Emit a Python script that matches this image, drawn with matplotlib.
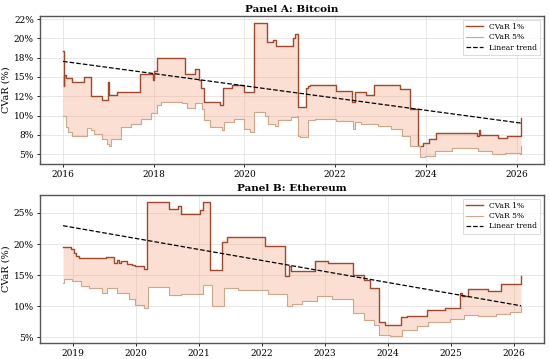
import matplotlib
matplotlib.use("Agg")
import matplotlib.pyplot as plt
import numpy as np
from matplotlib.ticker import MultipleLocator, FuncFormatter

# ---- Bitcoin: CVaR 1% (step series, decimal years) ----
btc_t1 = [2016.00, 2016.015, 2016.03, 2016.06, 2016.20, 2016.46, 2016.62, 2016.86,
          2017.00, 2017.02, 2017.06, 2017.20, 2017.70, 2017.98, 2018.00, 2018.07,
          2018.70, 2018.90, 2019.00, 2019.05, 2019.10, 2019.47, 2019.52, 2019.72,
          2020.00, 2020.20, 2020.49, 2020.63, 2020.69, 2021.06, 2021.12, 2021.18,
          2021.35, 2021.40, 2021.45, 2022.03, 2022.38, 2022.43, 2022.67, 2022.85,
          2023.43, 2023.65, 2023.83, 2023.94, 2024.06, 2024.22, 2025.12, 2025.17,
          2025.19, 2025.59, 2025.79, 2026.10]
btc_v1 = [18.4, 13.8, 15.2, 14.9, 14.4, 15.0, 12.5, 12.0,
          14.3, 12.7, 12.7, 13.1, 15.4, 14.6, 15.8, 17.5,
          15.4, 16.0, 14.6, 13.6, 11.8, 11.4, 13.6, 14.0,
          13.0, 22.0, 19.5, 19.8, 19.0, 20.1, 20.6, 11.1,
          13.55, 13.8, 13.9, 13.2, 11.8, 13.1, 12.7, 14.0,
          13.4, 10.8, 6.1, 6.5, 7.0, 7.76, 7.3, 8.1,
          7.5, 7.06, 7.4, 9.7]

# ---- Bitcoin: CVaR 5% ----
btc_t5 = [2016.00, 2016.06, 2016.10, 2016.20, 2016.53, 2016.61, 2016.68, 2016.86,
          2016.97, 2017.01, 2017.05, 2017.27, 2017.49, 2017.71, 2017.93, 2018.07,
          2018.15, 2018.62, 2018.73, 2018.92, 2019.06, 2019.10, 2019.25, 2019.50,
          2019.54, 2019.76, 2019.98, 2020.12, 2020.21, 2020.45, 2020.53, 2020.67,
          2020.74, 2021.03, 2021.15, 2021.18, 2021.22, 2021.40, 2021.55, 2022.03,
          2022.40, 2022.43, 2022.58, 2022.95, 2023.24, 2023.47, 2023.65, 2023.87,
          2023.98, 2024.20, 2024.57, 2025.16, 2025.45, 2025.75, 2026.08, 2026.10]
btc_v5 = [10.0, 8.5, 7.85, 7.4, 8.4, 8.1, 7.6, 7.0,
          6.3, 6.1, 7.0, 8.5, 8.95, 9.6, 10.3, 11.4,
          11.8, 11.6, 11.0, 11.6, 10.9, 9.4, 8.5, 8.1,
          9.2, 9.6, 8.3, 7.85, 10.5, 10.0, 8.9, 8.7,
          9.4, 9.8, 10.0, 7.4, 7.2, 9.4, 9.5, 9.25,
          8.3, 9.2, 8.95, 8.7, 8.3, 7.4, 6.1, 4.6,
          4.8, 5.4, 5.8, 5.4, 5.0, 5.2, 5.0, 6.1]

# ---- Ethereum: CVaR 1% ----
eth_t1 = [2018.84, 2018.96, 2019.02, 2019.05, 2019.09, 2019.52, 2019.65, 2019.69,
          2019.73, 2019.76, 2019.86, 2019.94, 2019.99, 2020.13, 2020.18, 2020.52,
          2020.66, 2020.71, 2021.01, 2021.06, 2021.18, 2021.37, 2021.45, 2022.04,
          2022.37, 2022.42, 2022.46, 2022.84, 2023.05, 2023.45, 2023.62, 2023.72,
          2023.85, 2023.95, 2024.21, 2024.30, 2024.61, 2024.90, 2025.14, 2025.17,
          2025.26, 2025.59, 2025.79, 2026.11]
eth_v1 = [19.6, 19.2, 18.5, 18.1, 17.7, 17.95, 16.9, 17.4,
          17.0, 17.2, 16.8, 16.65, 16.5, 15.95, 26.8, 25.6,
          26.1, 24.9, 25.4, 26.8, 15.8, 20.4, 21.1, 19.7,
          14.9, 16.5, 15.6, 17.3, 17.0, 15.1, 14.3, 13.0,
          7.5, 7.0, 8.2, 8.4, 9.4, 9.7, 12.15, 11.6,
          12.85, 12.5, 13.5, 14.9]

# ---- Ethereum: CVaR 5% ----
eth_t5 = [2018.84, 2018.86, 2018.98, 2019.12, 2019.25, 2019.46, 2019.54, 2019.70,
          2019.89, 2019.99, 2020.13, 2020.19, 2020.52, 2020.71, 2021.06, 2021.20,
          2021.40, 2021.61, 2022.09, 2022.39, 2022.47, 2022.63, 2022.87, 2023.11,
          2023.45, 2023.61, 2023.77, 2023.86, 2024.03, 2024.22, 2024.46, 2024.64,
          2024.98, 2025.20, 2025.43, 2025.72, 2025.94, 2026.11]
eth_v5 = [13.8, 14.4, 14.05, 13.2, 12.9, 12.2, 13.0, 12.2,
          11.1, 10.15, 9.7, 13.1, 11.8, 11.9, 13.4, 10.0,
          12.9, 12.6, 11.9, 10.0, 10.4, 10.8, 11.6, 11.2,
          8.9, 7.8, 7.0, 5.4, 5.2, 6.2, 6.9, 7.5,
          8.0, 8.6, 8.4, 8.75, 9.0, 10.0]

panels = [
    ("Panel A: Bitcoin", btc_t1, btc_v1, btc_t5, btc_v5, 2.5, 2),
    ("Panel B: Ethereum", eth_t1, eth_v1, eth_t5, eth_v5, 5, 1),
]

plt.rcParams['font.family'] = 'DejaVu Serif'

fig, axes = plt.subplots(2, 1, figsize=(5.5, 3.59), dpi=100)
fig.subplots_adjust(left=0.073, right=0.989, top=0.955, bottom=0.045, hspace=0.21)

c1 = '#a0472c'
c5 = '#cfa68a'
fillc = '#f4a582'

for ax, (title, t1, v1, t5, v5, ystep, xstep) in zip(axes, panels):
    t1 = np.array(t1); v1 = np.array(v1)
    t5 = np.array(t5); v5 = np.array(v5)

    # common step grid for the band
    grid = np.arange(t1[0], t1[-1], 1 / 365.0)
    grid = np.append(grid, t1[-1])
    up = v1[np.searchsorted(t1, grid, side='right') - 1]
    lo = v5[np.searchsorted(t5, grid, side='right') - 1]
    ax.fill_between(grid, lo, up, color=fillc, alpha=0.35, linewidth=0)

    ax.plot(t1, v1, drawstyle='steps-post', color=c1, lw=1.0, label='CVaR 1%')
    ax.plot(t5, v5, drawstyle='steps-post', color=c5, lw=0.8, label='CVaR 5%')

    # linear trend of CVaR 1%
    k, b = np.polyfit(grid, up, 1)
    ax.plot(grid[[0, -1]], k * grid[[0, -1]] + b, '--', color='black', lw=0.9,
            label='Linear trend')

    ax.set_title(title, fontsize=7.5, fontweight='bold', pad=3)
    ax.set_ylabel('CVaR (%)', fontsize=7, labelpad=2)
    ax.yaxis.set_major_locator(MultipleLocator(ystep))
    ax.yaxis.set_major_formatter(FuncFormatter(lambda v, p: '%.0f%%' % v))
    ax.xaxis.set_major_locator(MultipleLocator(xstep))
    ax.xaxis.set_major_formatter(FuncFormatter(lambda v, p: '%d' % round(v)))
    ax.tick_params(labelsize=6.5, length=2.5, width=0.6, pad=2)
    ax.grid(True, color='#dddddd', lw=0.5)
    ax.set_axisbelow(True)
    for s in ax.spines.values():
        s.set_color('#555555')
        s.set_linewidth(1.0)
    leg = ax.legend(loc='upper right', fontsize=5.5, frameon=True, fancybox=False,
                    borderpad=0.4, handlelength=2.2, labelspacing=0.3)
    leg.get_frame().set_edgecolor('#cccccc')
    leg.get_frame().set_linewidth(0.6)

plt.savefig('out.png', dpi=100)
